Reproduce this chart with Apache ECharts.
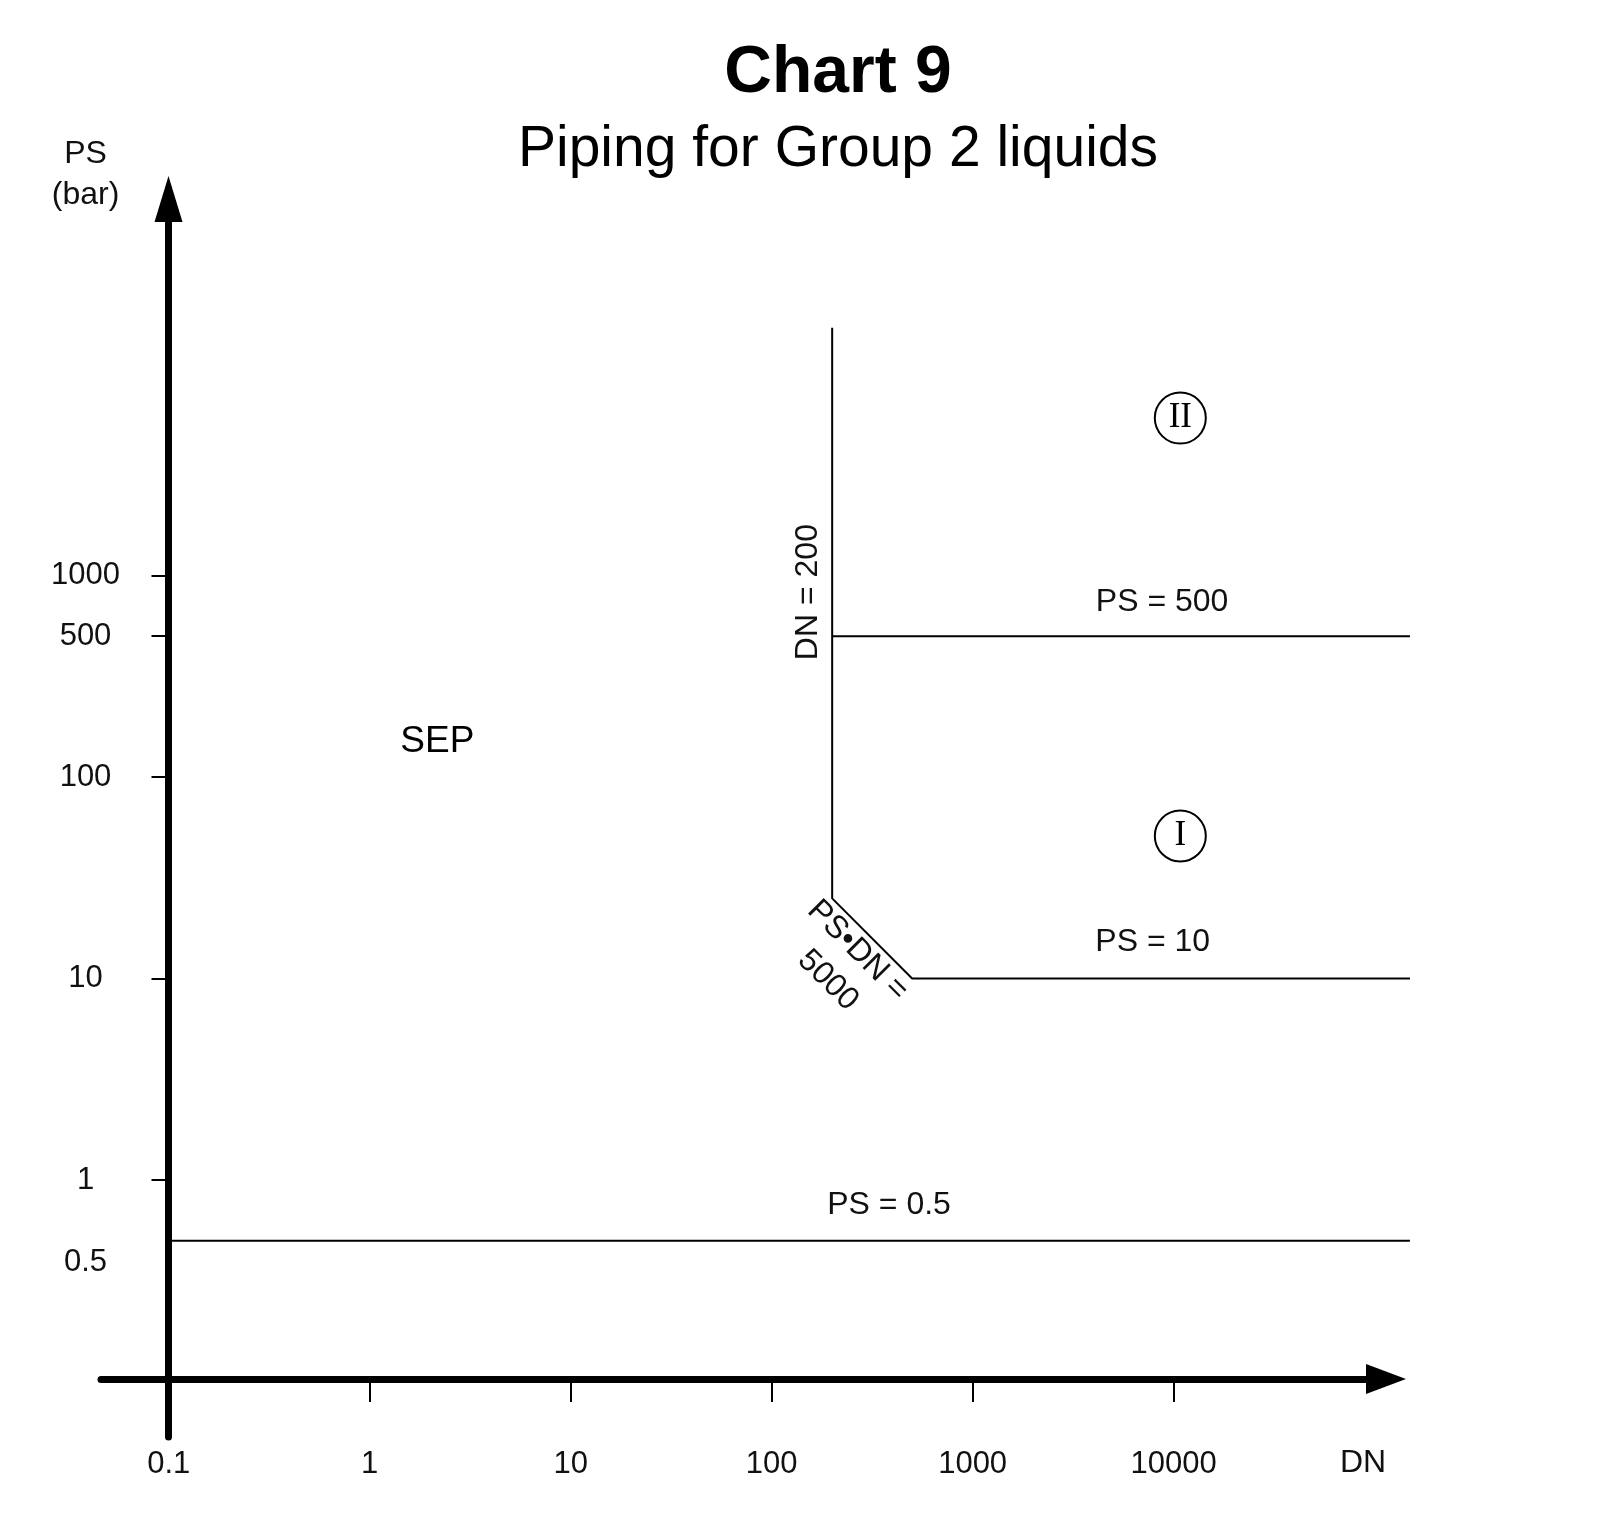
<!DOCTYPE html>
<html><head><meta charset="utf-8">
<script src="https://cdn.jsdelivr.net/npm/echarts@6/dist/echarts.min.js"></script>
<style>html,body{margin:0;padding:0;background:#fff}#c{width:1614px;height:1521px}</style>
</head><body><div id="c"></div>
<script>
// ---- data ----
const xTickValues = [0.1, 1, 10, 100, 1000, 10000];
const xTickMarks = [1, 10, 100, 1000, 10000];
const yTickValues = [0.5, 1, 10, 100, 500, 1000];
const yTickMarks = [1, 10, 100, 500, 1000];
const xAxisRange = [0.046, 114000];
const yAxisRange = [0.053, 74000];
const lineEndDN = 150000;
const limitPS500 = [[200, 500], [lineEndDN, 500]];
const limitDN200 = [[200, 17000], [200, 25], [500, 10], [lineEndDN, 10]];
const limitPS05 = [[0.1, 0.5], [lineEndDN, 0.5]];
const lineTexts = ['PS = 500', 'PS = 10', 'PS = 0.5', 'DN = 200', 'PS\u2022DN =\n5000'];
const lineTextPos = [[8770, 740], [7870, 15.1], [384, 0.75], [152, 828], [226, 11.6]];
const lineTextRotate = [0, 0, 0, 90, -45];
const regionTexts = ['SEP'];
const regionTextPos = [[2.17, 150]];
const categoryTexts = ['II', 'I'];
const categoryPos = [[10800, 6050], [10800, 51]];

const SANS = 'Liberation Sans, Arial, Helvetica, sans-serif';
const SERIF = 'Liberation Serif, Times New Roman, serif';
const TXT = '#111';
const fmt = v => String(+(+v).toPrecision(6));

// Layout: the visible axes end at the arrow; the drawing area is a little wider
const GRID_L = 101, GRID_T = 199, GRID_B = 84;
const AXIS_R = 228, DATA_R = 202;
const W = 1614;
const axisW = W - GRID_L - AXIS_R, dataW = W - GRID_L - DATA_R;
const xSpan = Math.log10(xAxisRange[1] / xAxisRange[0]);
const xDataMax = xAxisRange[0] * Math.pow(10, xSpan * dataW / axisW);

const chart = echarts.init(document.getElementById('c'), null, {renderer: 'canvas'});
chart.setOption({
  animation: false,
  backgroundColor: '#fff',
  graphic: [
    {type: 'text', x: 838, y: 74, style: {text: 'Chart 9', fill: '#000', font: 'bold 66px ' + SANS, align: 'center', verticalAlign: 'middle'}},
    {type: 'text', x: 838, y: 150, style: {text: 'Piping for Group 2 liquids', fill: '#000', font: '57px ' + SANS, align: 'center', verticalAlign: 'middle'}},
    {type: 'text', x: 85.5, y: 175, style: {text: 'PS\n(bar)', fill: TXT, font: '32px ' + SANS, lineHeight: 41, align: 'center', verticalAlign: 'middle'}},
    {type: 'text', x: 1363, y: 1463, style: {text: 'DN', fill: TXT, font: '32px ' + SANS, align: 'center', verticalAlign: 'middle'}}
  ],
  grid: [
    {left: GRID_L, right: AXIS_R, top: GRID_T, bottom: GRID_B, containLabel: false, outerBoundsMode: 'none'},
    {left: GRID_L, right: DATA_R, top: GRID_T, bottom: GRID_B, containLabel: false, outerBoundsMode: 'none'}
  ],
  xAxis: [{
    gridIndex: 0, type: 'log', logBase: 10, min: xAxisRange[0], max: xAxisRange[1], offset: -58,
    axisLine: {show: true, onZero: false, symbol: ['none', 'triangle'], symbolSize: [30, 40], lineStyle: {color: '#000', width: 7}},
    axisTick: {show: true, customValues: xTickMarks, length: 23, lineStyle: {color: '#000', width: 2}},
    axisLabel: {show: true, customValues: xTickValues, margin: 70, formatter: v => fmt(v), fontSize: 31, fontFamily: SANS, color: TXT},
    splitLine: {show: false}, minorTick: {show: false}, minorSplitLine: {show: false}
  }, {
    gridIndex: 1, type: 'log', logBase: 10, min: xAxisRange[0], max: xDataMax, show: false,
    splitLine: {show: false}
  }],
  yAxis: [{
    gridIndex: 0, type: 'log', logBase: 10, min: yAxisRange[0], max: yAxisRange[1], offset: -67.5,
    axisLine: {show: true, onZero: false, symbol: ['none', 'triangle'], symbolSize: [28, 46], lineStyle: {color: '#000', width: 7}},
    axisTick: {show: true, customValues: yTickMarks, length: 17, lineStyle: {color: '#000', width: 2}},
    axisLabel: {
      show: true, customValues: yTickValues, margin: 83, align: 'center',
      formatter: v => (+v < 1 ? '{low|' + fmt(v) + '}' : fmt(v)),
      rich: {low: {padding: [44, 0, 0, 0], fontSize: 31, fontFamily: SANS, color: TXT}},
      fontSize: 31, fontFamily: SANS, color: TXT
    },
    splitLine: {show: false}, minorTick: {show: false}, minorSplitLine: {show: false}
  }, {
    gridIndex: 1, type: 'log', logBase: 10, min: yAxisRange[0], max: yAxisRange[1], show: false,
    splitLine: {show: false}
  }],
  series: [
    {type: 'line', name: 'PS = 500', xAxisIndex: 1, yAxisIndex: 1, data: limitPS500, symbol: 'none', clip: false, silent: true, lineStyle: {color: '#000', width: 2}},
    {type: 'line', name: 'DN = 200 / PS·DN = 5000 / PS = 10', xAxisIndex: 1, yAxisIndex: 1, data: limitDN200, symbol: 'none', clip: false, silent: true, lineStyle: {color: '#000', width: 2}},
    {type: 'line', name: 'PS = 0.5', xAxisIndex: 1, yAxisIndex: 1, data: limitPS05, symbol: 'none', clip: false, silent: true, lineStyle: {color: '#000', width: 2}},
    {
      type: 'scatter', name: 'line labels', xAxisIndex: 1, yAxisIndex: 1, silent: true, clip: false, symbolSize: 1,
      itemStyle: {color: 'rgba(0,0,0,0)', opacity: 1},
      label: {show: true, position: 'inside', formatter: p => p.name, fontSize: 32, fontFamily: SANS, color: TXT, opacity: 1, textBorderWidth: 0, lineHeight: 42, align: 'center', verticalAlign: 'middle'},
      data: lineTexts.map((t, i) => ({name: t, value: lineTextPos[i], label: {rotate: lineTextRotate[i]}}))
    },
    {
      type: 'scatter', name: 'regions', xAxisIndex: 1, yAxisIndex: 1, silent: true, clip: false, symbolSize: 1,
      itemStyle: {color: 'rgba(0,0,0,0)', opacity: 1},
      label: {show: true, position: 'inside', formatter: p => p.name, fontSize: 37, fontFamily: SANS, color: '#000', opacity: 1, textBorderWidth: 0},
      data: regionTexts.map((t, i) => ({name: t, value: regionTextPos[i]}))
    },
    {
      type: 'scatter', name: 'categories', xAxisIndex: 1, yAxisIndex: 1, silent: true, clip: false, symbol: 'circle', symbolSize: 51,
      itemStyle: {color: '#fff', borderColor: '#000', borderWidth: 2, opacity: 1},
      label: {show: true, position: 'inside', formatter: p => p.name, fontSize: 35, fontFamily: SERIF, color: '#000', opacity: 1, textBorderWidth: 0},
      data: categoryTexts.map((t, i) => ({name: t, value: categoryPos[i]}))
    }
  ]
});
</script></body></html>
